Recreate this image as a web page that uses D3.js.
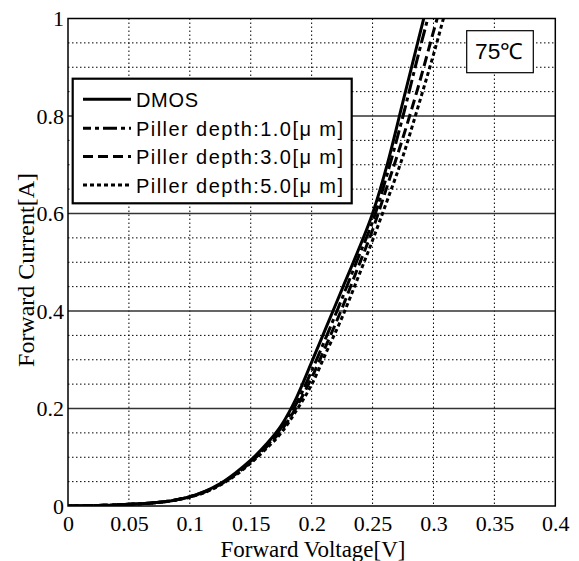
<!DOCTYPE html>
<html><head><meta charset="utf-8">
<script src="https://cdn.jsdelivr.net/npm/d3@7"></script>
<style>body{margin:0;background:#fff}</style>
</head><body>
<svg id="c" width="579" height="561"></svg>
<script>
// ---- data ----
const voltage = [0, 0.0125, 0.025, 0.0375, 0.05, 0.0625, 0.075, 0.0875, 0.1, 0.1125, 0.125, 0.1375,
                 0.15, 0.1625, 0.175, 0.1875, 0.2, 0.2125, 0.225, 0.2375, 0.25, 0.2625, 0.275, 0.2875, 0.3, 0.3125];
const dmos   = [0, 0.0005, 0.0012, 0.002, 0.0035, 0.005, 0.0075, 0.012, 0.019, 0.030, 0.046, 0.068,
                0.094, 0.126, 0.165, 0.222, 0.295, 0.370, 0.445, 0.520, 0.600, 0.705, 0.830, 0.955, 1.080, 1.210];
const depth1 = [0, 0.0005, 0.0012, 0.002, 0.0035, 0.005, 0.0075, 0.012, 0.019, 0.030, 0.045, 0.066,
                0.092, 0.122, 0.160, 0.210, 0.277, 0.350, 0.426, 0.505, 0.583, 0.685, 0.800, 0.925, 1.045, 1.170];
const depth3 = [0, 0.0005, 0.0012, 0.002, 0.0035, 0.005, 0.0075, 0.012, 0.019, 0.029, 0.044, 0.065,
                0.090, 0.120, 0.155, 0.203, 0.263, 0.333, 0.406, 0.486, 0.566, 0.660, 0.756, 0.860, 0.973, 1.085];
const depth5 = [0, 0.0005, 0.0012, 0.002, 0.0035, 0.005, 0.0075, 0.012, 0.018, 0.028, 0.043, 0.063,
                0.088, 0.117, 0.150, 0.196, 0.249, 0.318, 0.387, 0.465, 0.545, 0.630, 0.718, 0.820, 0.926, 1.040];
const seriesNames = ["DMOS", "Piller depth:1.0[μ m]", "Piller depth:3.0[μ m]", "Piller depth:5.0[μ m]"];
const seriesDash = [null, "14,4,4,4", "10,5", "4,3"];
const xTicks = [0, 0.05, 0.1, 0.15, 0.2, 0.25, 0.3, 0.35, 0.4];
const yTicks = [0, 0.2, 0.4, 0.6, 0.8, 1];
const yMinor = [0.05,0.1,0.15,0.25,0.3,0.35,0.45,0.5,0.55,0.65,0.7,0.75,0.85,0.9,0.95];
const xLabel = "Forward Voltage[V]";
const yLabel = "Forward Current[A]";
const tempLabel = "75℃";

const serif = "'Times New Roman','Liberation Serif',Tinos,serif";
const sans = "'Liberation Sans',Arial,sans-serif";

const svg = d3.select("#c");
const L = 68, R = 555.3, T = 18.5, B = 506;
const x = d3.scaleLinear().domain([0, 0.4]).range([L, R]);
const y = d3.scaleLinear().domain([0, 1]).range([B, T]);

// grid
const g = svg.append("g");
g.selectAll(".vx").data(xTicks.slice(1, -1)).join("line")
  .attr("x1", d => x(d)).attr("x2", d => x(d)).attr("y1", T).attr("y2", B)
  .attr("stroke", "#000").attr("stroke-width", 1).attr("stroke-dasharray", "1.5,2.5");
g.selectAll(".hm").data(yMinor).join("line")
  .attr("x1", L).attr("x2", R).attr("y1", d => y(d)).attr("y2", d => y(d))
  .attr("stroke", "#000").attr("stroke-width", 1).attr("stroke-dasharray", "1.5,2.5");
g.selectAll(".hM").data(yTicks.slice(1, -1)).join("line")
  .attr("x1", L).attr("x2", R).attr("y1", d => y(d)).attr("y2", d => y(d))
  .attr("stroke", "#333").attr("stroke-width", 1.3);

// axes ticks labels
const xAxis = d3.axisBottom(x).tickValues(xTicks).tickSize(0).tickPadding(9.4).tickFormat(d3.format("~g"));
const yAxis = d3.axisLeft(y).tickValues(yTicks).tickSize(0).tickPadding(4).tickFormat(d3.format("~g"));
const ax = svg.append("g").attr("transform", `translate(0,${B})`).call(xAxis);
const ay = svg.append("g").attr("transform", `translate(${L},0)`).call(yAxis);
[ax, ay].forEach(a => {
  a.select(".domain").remove();
  a.selectAll("text").style("font-family", serif).style("font-size", "22px").attr("fill", "#000");
});

// clip
svg.append("clipPath").attr("id", "pc").append("rect")
  .attr("x", L).attr("y", T).attr("width", R - L).attr("height", B - T);

const allSeries = [dmos, depth1, depth3, depth5];
const line = d3.line().x(d => x(d[0])).y(d => y(d[1])).curve(d3.curveMonotoneX);
const pg = svg.append("g").attr("clip-path", "url(#pc)");
allSeries.slice().reverse().forEach((s, ri) => {
  const i = allSeries.length - 1 - ri;
  pg.append("path").datum(voltage.map((v, k) => [v, s[k]]))
    .attr("d", line).attr("fill", "none").attr("stroke", "#000")
    .attr("stroke-width", 3).attr("stroke-dasharray", seriesDash[i]);
});

// frame
svg.append("rect").attr("x", L).attr("y", T).attr("width", R - L).attr("height", B - T)
  .attr("fill", "none").attr("stroke", "#000").attr("stroke-width", 1.5);

// legend
const lg = svg.append("g");
lg.append("rect").attr("x", 72.7).attr("y", 78.7).attr("width", 279).attr("height", 124.6)
  .attr("fill", "#fff").attr("stroke", "#000").attr("stroke-width", 2.2);
const rowY = [99.3, 128.3, 156.5, 185];
const textLen = [62, 207, 207, 207];
seriesNames.forEach((n, i) => {
  lg.append("line").attr("x1", 83).attr("x2", 131).attr("y1", rowY[i]).attr("y2", rowY[i])
    .attr("stroke", "#000").attr("stroke-width", 3).attr("stroke-dasharray", seriesDash[i])
    .attr("stroke-dashoffset", i === 1 ? 6 : 0);
  lg.append("text").attr("x", 136).attr("y", rowY[i] + 7.5).text(n)
    .style("font-family", sans).style("font-size", "20px")
    .attr("textLength", textLen[i]).attr("lengthAdjust", "spacing")
    .attr("fill", "#000");
});

// temperature box
svg.append("rect").attr("x", 466.7).attr("y", 30.7).attr("width", 66.6).attr("height", 42)
  .attr("fill", "#fff").attr("stroke", "#000").attr("stroke-width", 1.2);
svg.append("text").attr("x", 475).attr("y", 58.5).text(tempLabel)
  .style("font-family", sans).style("font-size", "22px")
  .attr("textLength", 48).attr("lengthAdjust", "spacingAndGlyphs");

// axis labels
svg.append("text").attr("x", 313).attr("y", 557).attr("text-anchor", "middle").text(xLabel)
  .style("font-family", serif).style("font-size", "23px");
svg.append("text").attr("transform", "translate(34,270) rotate(-90)").attr("text-anchor", "middle").text(yLabel)
  .style("font-family", serif).style("font-size", "24px");
</script>
</body></html>
